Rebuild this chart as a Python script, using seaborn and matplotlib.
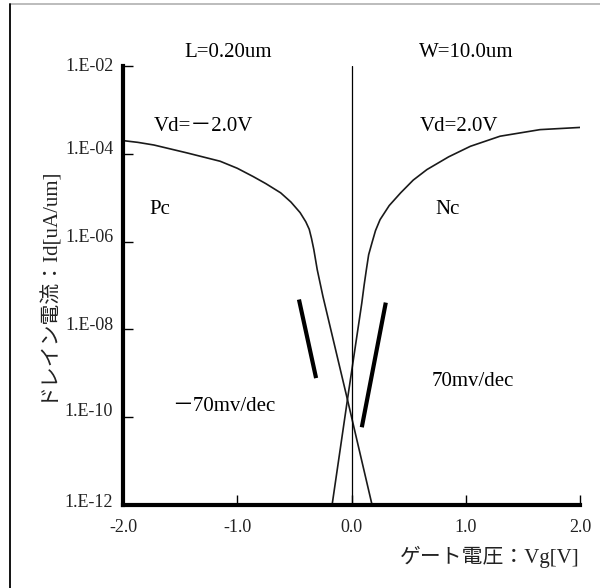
import numpy as np
import pandas as pd
import matplotlib
matplotlib.use("Agg")
import matplotlib.pyplot as plt
import matplotlib.transforms as mtransforms
from matplotlib.lines import Line2D
import seaborn as sns

# Pc (p-channel) transfer curve: gate voltage [V] and log10 of drain current
vg_p = [-2.0, -1.87, -1.73, -1.44, -1.15, -1.00, -0.86, -0.75, -0.62, -0.53, -0.45,
        -0.40, -0.37, -0.35, -0.33, -0.30, -0.25, -0.03, 0.18]
log_id_p = [-3.70, -3.74, -3.80, -3.98, -4.17, -4.33, -4.52, -4.68, -4.89, -5.10, -5.34,
            -5.55, -5.72, -5.93, -6.18, -6.64, -7.25, -9.66, -12.0]

# Nc (n-channel) transfer curve
vg_n = [-0.17, -0.03, 0.09, 0.11, 0.13, 0.15, 0.18, 0.21, 0.25, 0.33, 0.43, 0.54,
        0.66, 0.85, 1.04, 1.30, 1.65, 2.0]
log_id_n = [-12.0, -9.50, -7.40, -7.00, -6.64, -6.30, -6.02, -5.75, -5.50, -5.18, -4.89,
            -4.60, -4.36, -4.07, -3.83, -3.60, -3.45, -3.40]

# subthreshold slope guide segments
vg_guide_p = [-0.46, -0.31]
log_guide_p = [-7.32, -9.11]
vg_guide_n = [0.09, 0.30]
log_guide_n = [-10.23, -7.39]

x_ticks = [-2.0, -1.0, 0.0, 1.0, 2.0]
x_tick_labels = ["-2.0", "-1.0", "0.0", "1.0", "2.0"]
y_ticks = [1e-2, 1e-4, 1e-6, 1e-8, 1e-10, 1e-12]
y_tick_labels = ["1.E-02", "1.E-04", "1.E-06", "1.E-08", "1.E-10", "1.E-12"]

sns.set_theme(style="white")
plt.rcParams["font.family"] = ["Liberation Serif", "Noto Sans CJK JP", "DejaVu Sans"]

fig = plt.figure(figsize=(6.0, 5.88), dpi=100)
ax = fig.add_axes([0.205, 0.1412, 0.7617, 0.7466])

df_p = pd.DataFrame({"Vg": vg_p, "Id": 10 ** np.array(log_id_p)})
df_n = pd.DataFrame({"Vg": vg_n, "Id": 10 ** np.array(log_id_n)})
sns.lineplot(data=df_p, x="Vg", y="Id", ax=ax, sort=False, estimator=None,
             color="#1a1a1a", linewidth=1.2)
sns.lineplot(data=df_n, x="Vg", y="Id", ax=ax, sort=False, estimator=None,
             color="#1a1a1a", linewidth=1.2)

ax.plot(vg_guide_p, 10 ** np.array(log_guide_p), color="black", linewidth=3.0,
        solid_capstyle="butt")
ax.plot(vg_guide_n, 10 ** np.array(log_guide_n), color="black", linewidth=3.0,
        solid_capstyle="butt")

ax.axvline(0.0, color="black", linewidth=0.9)

ax.set_yscale("log")
ax.set_xlim(-2.0, 2.0)
ax.set_ylim(1e-12, 1e-2)
ax.set_xticks(x_ticks)
ax.set_xticklabels(x_tick_labels)
ax.set_yticks(y_ticks)
ax.set_yticklabels(y_tick_labels)
ax.yaxis.set_minor_locator(matplotlib.ticker.NullLocator())
ax.set_xlabel("")
ax.set_ylabel("")

for side in ("top", "right"):
    ax.spines[side].set_visible(False)
for side in ("left", "bottom"):
    ax.spines[side].set_visible(True)
    ax.spines[side].set_color("black")
    ax.spines[side].set_linewidth(3.0)

ax.tick_params(axis="y", direction="in", length=7.5, width=1.0, color="black",
               pad=7, labelsize=13, labelcolor="#222222", left=True)
ax.tick_params(axis="x", direction="in", length=7.5, width=1.0, color="black",
               pad=10, labelsize=13, labelcolor="#222222", bottom=True)

# lift the y tick labels slightly above their ticks
y_label_lift = [1, 6, 6, 6, 8, 4]
for lab, dy in zip(ax.get_yticklabels(), y_label_lift):
    lab.set_transform(lab.get_transform() +
                      mtransforms.ScaledTranslation(0, dy / 100, fig.dpi_scale_trans))

# annotations
ann = dict(ha="center", va="center", fontsize=15, color="black", clip_on=False)
ax.text(-1.08, 10 ** -1.70, "L=0.20um", **ann)
ax.text(1.00, 10 ** -1.70, "W=10.0um", **ann)
ax.text(-1.30, 10 ** -3.39, "Vd=－2.0V", **ann)
ax.text(0.94, 10 ** -3.39, "Vd=2.0V", **ann)
ax.text(-1.68, 10 ** -5.27, "Pc", **ann)
ax.text(0.84, 10 ** -5.27, "Nc", **ann)
ax.text(-1.12, 10 ** -9.75, "－70mv/dec", **ann)
ax.text(1.06, 10 ** -9.18, "70mv/dec", **ann)

# axis titles
fig.text(580 / 600, 1 - 557 / 588, "ゲート電圧：Vg[V]", ha="right", va="center",
         fontsize=15, color="#222222")
fig.text(47 / 600, 1 - 283 / 588, "ドレイン電流：Id[uA/um]", ha="center", va="center",
         rotation=90, fontsize=15, color="#222222")

# outer frame lines
fig.add_artist(Line2D([10 / 600, 1.0], [1 - 4 / 588, 1 - 4 / 588],
                      transform=fig.transFigure, color="#b0b0b0", linewidth=1.2))
fig.add_artist(Line2D([9.5 / 600, 9.5 / 600], [0.0, 1 - 4 / 588],
                      transform=fig.transFigure, color="black", linewidth=1.3))

fig.savefig("out.png", dpi=100, facecolor="white")
